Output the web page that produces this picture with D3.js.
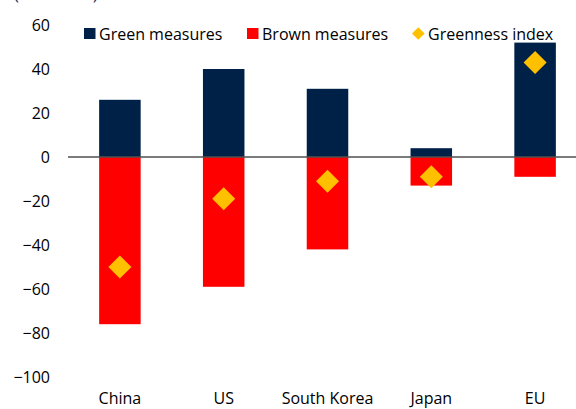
<!DOCTYPE html>
<html><head><meta charset="utf-8">
<script src="https://cdn.jsdelivr.net/npm/d3@7"></script>
<style>body{margin:0;background:#fff}svg{display:block}</style>
</head><body>
<script>
const categories = ["China", "US", "South Korea", "Japan", "EU"];
const greenMeasures = [26, 40, 31, 4, 52];
const brownMeasures = [-76, -59, -42, -13, -9];
const greennessIndex = [-50, -19, -11, -9, 43];
const yTicks = [60, 40, 20, 0, -20, -40, -60, -80, -100];
const legendLabels = ["Green measures", "Brown measures", "Greenness index"];

const W = 576, H = 409;
const font = "Open Sans, Liberation Sans, sans-serif";
const navy = "#002147", red = "#FF0000", gold = "#FFC000";

const svg = d3.select("body").append("svg").attr("width", W).attr("height", H)
  .style("font-family", font);

const x = d3.scaleBand().domain(categories).range([68, 587]).paddingInner(0.6).paddingOuter(0.3);
const y = d3.scaleLinear().domain([-100, 60]).range([377, 25]);

// unit label at top (cut off at the top edge, as in the reference)
svg.append("text").attr("x", 14).attr("y", 0).attr("font-size", 17).attr("fill", "#203864")
  .text("(% of GDP)");

// y axis labels
const yAxis = d3.axisLeft(y).tickValues(yTicks).tickSize(0).tickPadding(0);
const ga = svg.append("g").attr("transform", "translate(50,0)").call(yAxis);
ga.select(".domain").remove();
ga.selectAll("text").attr("font-size", 16).attr("fill", "#000").attr("font-family", font).attr("dy", "0.35em");

// bars
svg.append("g").selectAll("rect").data(categories).join("rect")
  .attr("x", d => x(d)).attr("width", x.bandwidth())
  .attr("y", (d, i) => y(greenMeasures[i]))
  .attr("height", (d, i) => y(0) - y(greenMeasures[i]))
  .attr("fill", navy);
svg.append("g").selectAll("rect").data(categories).join("rect")
  .attr("x", d => x(d)).attr("width", x.bandwidth())
  .attr("y", y(0))
  .attr("height", (d, i) => y(brownMeasures[i]) - y(0))
  .attr("fill", red);

// zero line
svg.append("line").attr("x1", 68).attr("x2", W).attr("y1", y(0)).attr("y2", y(0))
  .attr("stroke", "#505050").attr("stroke-width", 1.5);

// diamonds
const dsym = d3.symbol().type(d3.symbolSquare).size(265);
svg.append("g").selectAll("path").data(categories).join("path")
  .attr("d", dsym)
  .attr("transform", (d, i) => `translate(${x(d) + x.bandwidth() / 2},${y(greennessIndex[i])}) rotate(45)`)
  .attr("fill", gold);

// x labels
const xAxis = d3.axisBottom(x).tickSize(0).tickPadding(0);
const gx = svg.append("g").attr("transform", "translate(0,393)").call(xAxis);
gx.select(".domain").remove();
gx.selectAll("text").attr("font-size", 16).attr("fill", "#000").attr("font-family", font).attr("dy", "0.71em");

// legend
const leg = svg.append("g");
const legX = [84, 247, 412];
leg.append("rect").attr("x", legX[0]).attr("y", 28).attr("width", 11.5).attr("height", 11).attr("fill", navy);
leg.append("rect").attr("x", legX[1]).attr("y", 28).attr("width", 11.5).attr("height", 11).attr("fill", red);
leg.append("path").attr("d", d3.symbol().type(d3.symbolSquare).size(80))
  .attr("transform", `translate(${legX[2] + 6.3},33.5) rotate(45)`).attr("fill", gold);
const legTX = [99, 262, 428];
legendLabels.forEach((t, i) => {
  leg.append("text").attr("x", legTX[i]).attr("y", 39.5).attr("font-size", 16).attr("fill", "#000").text(t);
});
</script>
</body></html>
